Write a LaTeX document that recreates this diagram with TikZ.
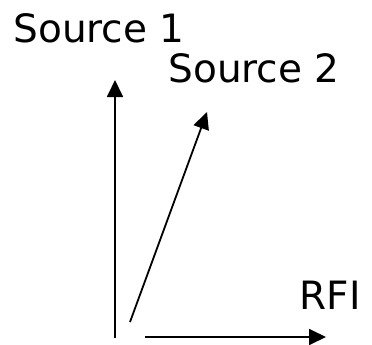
\documentclass[tikz,border=0pt]{standalone}
\usepackage{fontspec}
\setmainfont{DejaVu Sans}
\usetikzlibrary{arrows.meta}

\begin{document}
\begin{tikzpicture}[x=1pt,y=-1pt,
  vec/.style={line width=1.8pt,-{Triangle[width=16pt,length=17pt]}},
  lbl/.style={inner sep=0pt,font=\fontsize{39}{44}\selectfont}]

\useasboundingbox (0,0) rectangle (372,345);

\node[lbl] (s1) at (99,28) {Source 1};
\node[lbl] (s2) at (254,68) {Source 2};
\node[lbl] (rfi) at (330,295) {RFI};

\coordinate (o1) at (115,338);
\coordinate (t1) at (115,80);
\coordinate (o2) at (130,322);
\coordinate (t2) at (207,112);
\coordinate (o3) at (145,337);
\coordinate (t3) at (326,337);

\draw[vec] (o1)--(t1);
\draw[vec] (o2)--(t2);
\draw[vec] (o3)--(t3);

\end{tikzpicture}
\end{document}
